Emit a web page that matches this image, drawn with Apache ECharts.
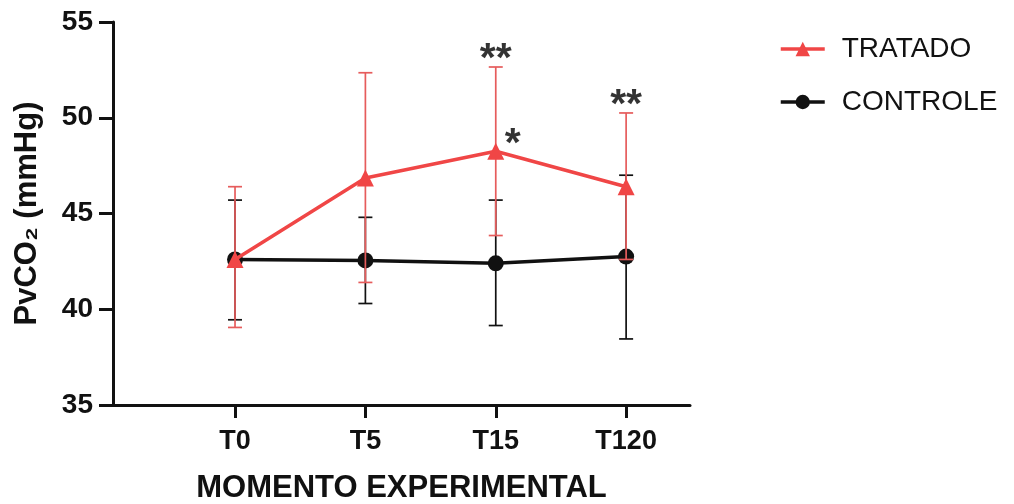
<!DOCTYPE html>
<html><head><meta charset="utf-8">
<script src="https://cdn.jsdelivr.net/npm/echarts@6/dist/echarts.min.js"></script>
<style>html,body{margin:0;padding:0;background:#fff}#c{width:1014px;height:504px}</style>
</head><body><div id="c"></div>
<script>
const categories = ['T0', 'T5', 'T15', 'T120'];
const tratadoMean = [42.6, 46.85, 48.25, 46.4];
const tratadoLow  = [39.05, 41.4, 43.85, 42.6];
const tratadoHigh = [46.4, 52.35, 52.65, 50.25];
const controleMean = [42.6, 42.55, 42.4, 42.75];
const controleLow  = [39.45, 40.3, 39.15, 38.45];
const controleHigh = [45.7, 44.8, 45.7, 47.0];
const yTicks = [35, 40, 45, 50, 55];
const sigDouble = [{idx: 2, text: '**'}, {idx: 3, text: '**'}];
const sigSingle = [{idx: 2, text: '*'}];

const RED = '#f04646', RED_ERR = '#e65c5c', BLACK = '#111';
const FONT = 'Liberation Sans, Arial, sans-serif';

function errSeries(low, high, color, z) {
  return {
    type: 'custom', z: z, silent: true,
    data: low.map((l, i) => [i, l, high[i]]),
    renderItem: function (params, api) {
      const x = api.value(0);
      const lo = api.coord([x, api.value(1)]);
      const hi = api.coord([x, api.value(2)]);
      const hw = 7;
      const st = {stroke: color, lineWidth: 1.7};
      return {type: 'group', children: [
        {type: 'line', shape: {x1: lo[0], y1: lo[1], x2: hi[0], y2: hi[1]}, style: st},
        {type: 'line', shape: {x1: lo[0]-hw, y1: lo[1], x2: lo[0]+hw, y2: lo[1]}, style: st},
        {type: 'line', shape: {x1: hi[0]-hw, y1: hi[1], x2: hi[0]+hw, y2: hi[1]}, style: st}
      ]};
    }
  };
}

const chart = echarts.init(document.getElementById('c'));
chart.setOption({
  animation: false,
  grid: {left: 113, top: 22, right: 324, bottom: 99, containLabel: false, outerBoundsMode: 'none'},
  legend: {
    left: 774, top: 30, orient: 'vertical', itemGap: 25, itemWidth: 44, itemHeight: 18,
    lineStyle: {width: 3.5},
    textStyle: {fontSize: 28, fontFamily: FONT, color: '#111', padding: [0, 0, 0, 12]},
    data: ['TRATADO', 'CONTROLE']
  },
  xAxis: {
    type: 'value', min: -0.936, max: 3.49,
    axisLine: {show: true, onZero: false, lineStyle: {color: BLACK, width: 3}},
    axisTick: {show: true, customValues: [0, 1, 2, 3], length: 13, lineStyle: {color: BLACK, width: 3}},
    axisLabel: {customValues: [0, 1, 2, 3], formatter: v => categories[Math.round(v)] || '',
      fontSize: 27, fontWeight: 'bold', fontFamily: FONT, color: '#111', margin: 23},
    splitLine: {show: false},
    name: 'MOMENTO EXPERIMENTAL', nameLocation: 'middle', nameGap: 68,
    nameTextStyle: {fontSize: 31, fontWeight: 'bold', fontFamily: FONT, color: '#111', verticalAlign: 'top'}
  },
  yAxis: {
    type: 'value', min: yTicks[0], max: yTicks[yTicks.length - 1], interval: 5,
    axisLine: {show: true, onZero: false, lineStyle: {color: BLACK, width: 3}},
    axisTick: {show: true, length: 14, lineStyle: {color: BLACK, width: 3}},
    axisLabel: {fontSize: 28, fontWeight: 'bold', fontFamily: FONT, color: '#111', margin: 20},
    splitLine: {show: false},
    name: 'PvCO₂ (mmHg)', nameLocation: 'middle', nameGap: 70, nameRotate: 90,
    nameTextStyle: {fontSize: 31, fontWeight: 'bold', fontFamily: FONT, color: '#111'}
  },
  series: [
    errSeries(controleLow, controleHigh, BLACK, 2),
    {
      name: 'CONTROLE', type: 'line', z: 3,
      data: controleMean.map((v, i) => [i, v]),
      symbol: 'circle', symbolSize: 16,
      itemStyle: {color: BLACK}, lineStyle: {color: BLACK, width: 3.5}
    },
    errSeries(tratadoLow, tratadoHigh, RED_ERR, 4),
    {
      name: 'TRATADO', type: 'line', z: 5,
      data: tratadoMean.map((v, i) => [i, v]),
      symbol: 'triangle', symbolSize: 17,
      itemStyle: {color: RED}, lineStyle: {color: RED, width: 3.5}
    },
    {
      type: 'scatter', z: 6, silent: true, symbolSize: 0,
      data: sigDouble.map(s => ({value: [s.idx, tratadoHigh[s.idx]], label: {formatter: s.text}})),
      label: {show: true, position: 'top', distance: 0, offset: [0, 13], fontSize: 41, fontWeight: 'bold', fontFamily: FONT, color: '#000'}
    },
    {
      type: 'scatter', z: 6, silent: true, symbolSize: 0,
      data: sigSingle.map(s => ({value: [s.idx, tratadoMean[s.idx]], label: {formatter: s.text}})),
      label: {show: true, position: 'top', distance: 0, offset: [17, 14], fontSize: 41, fontWeight: 'bold', fontFamily: FONT, color: '#000'}
    }
  ]
});
</script></body></html>
